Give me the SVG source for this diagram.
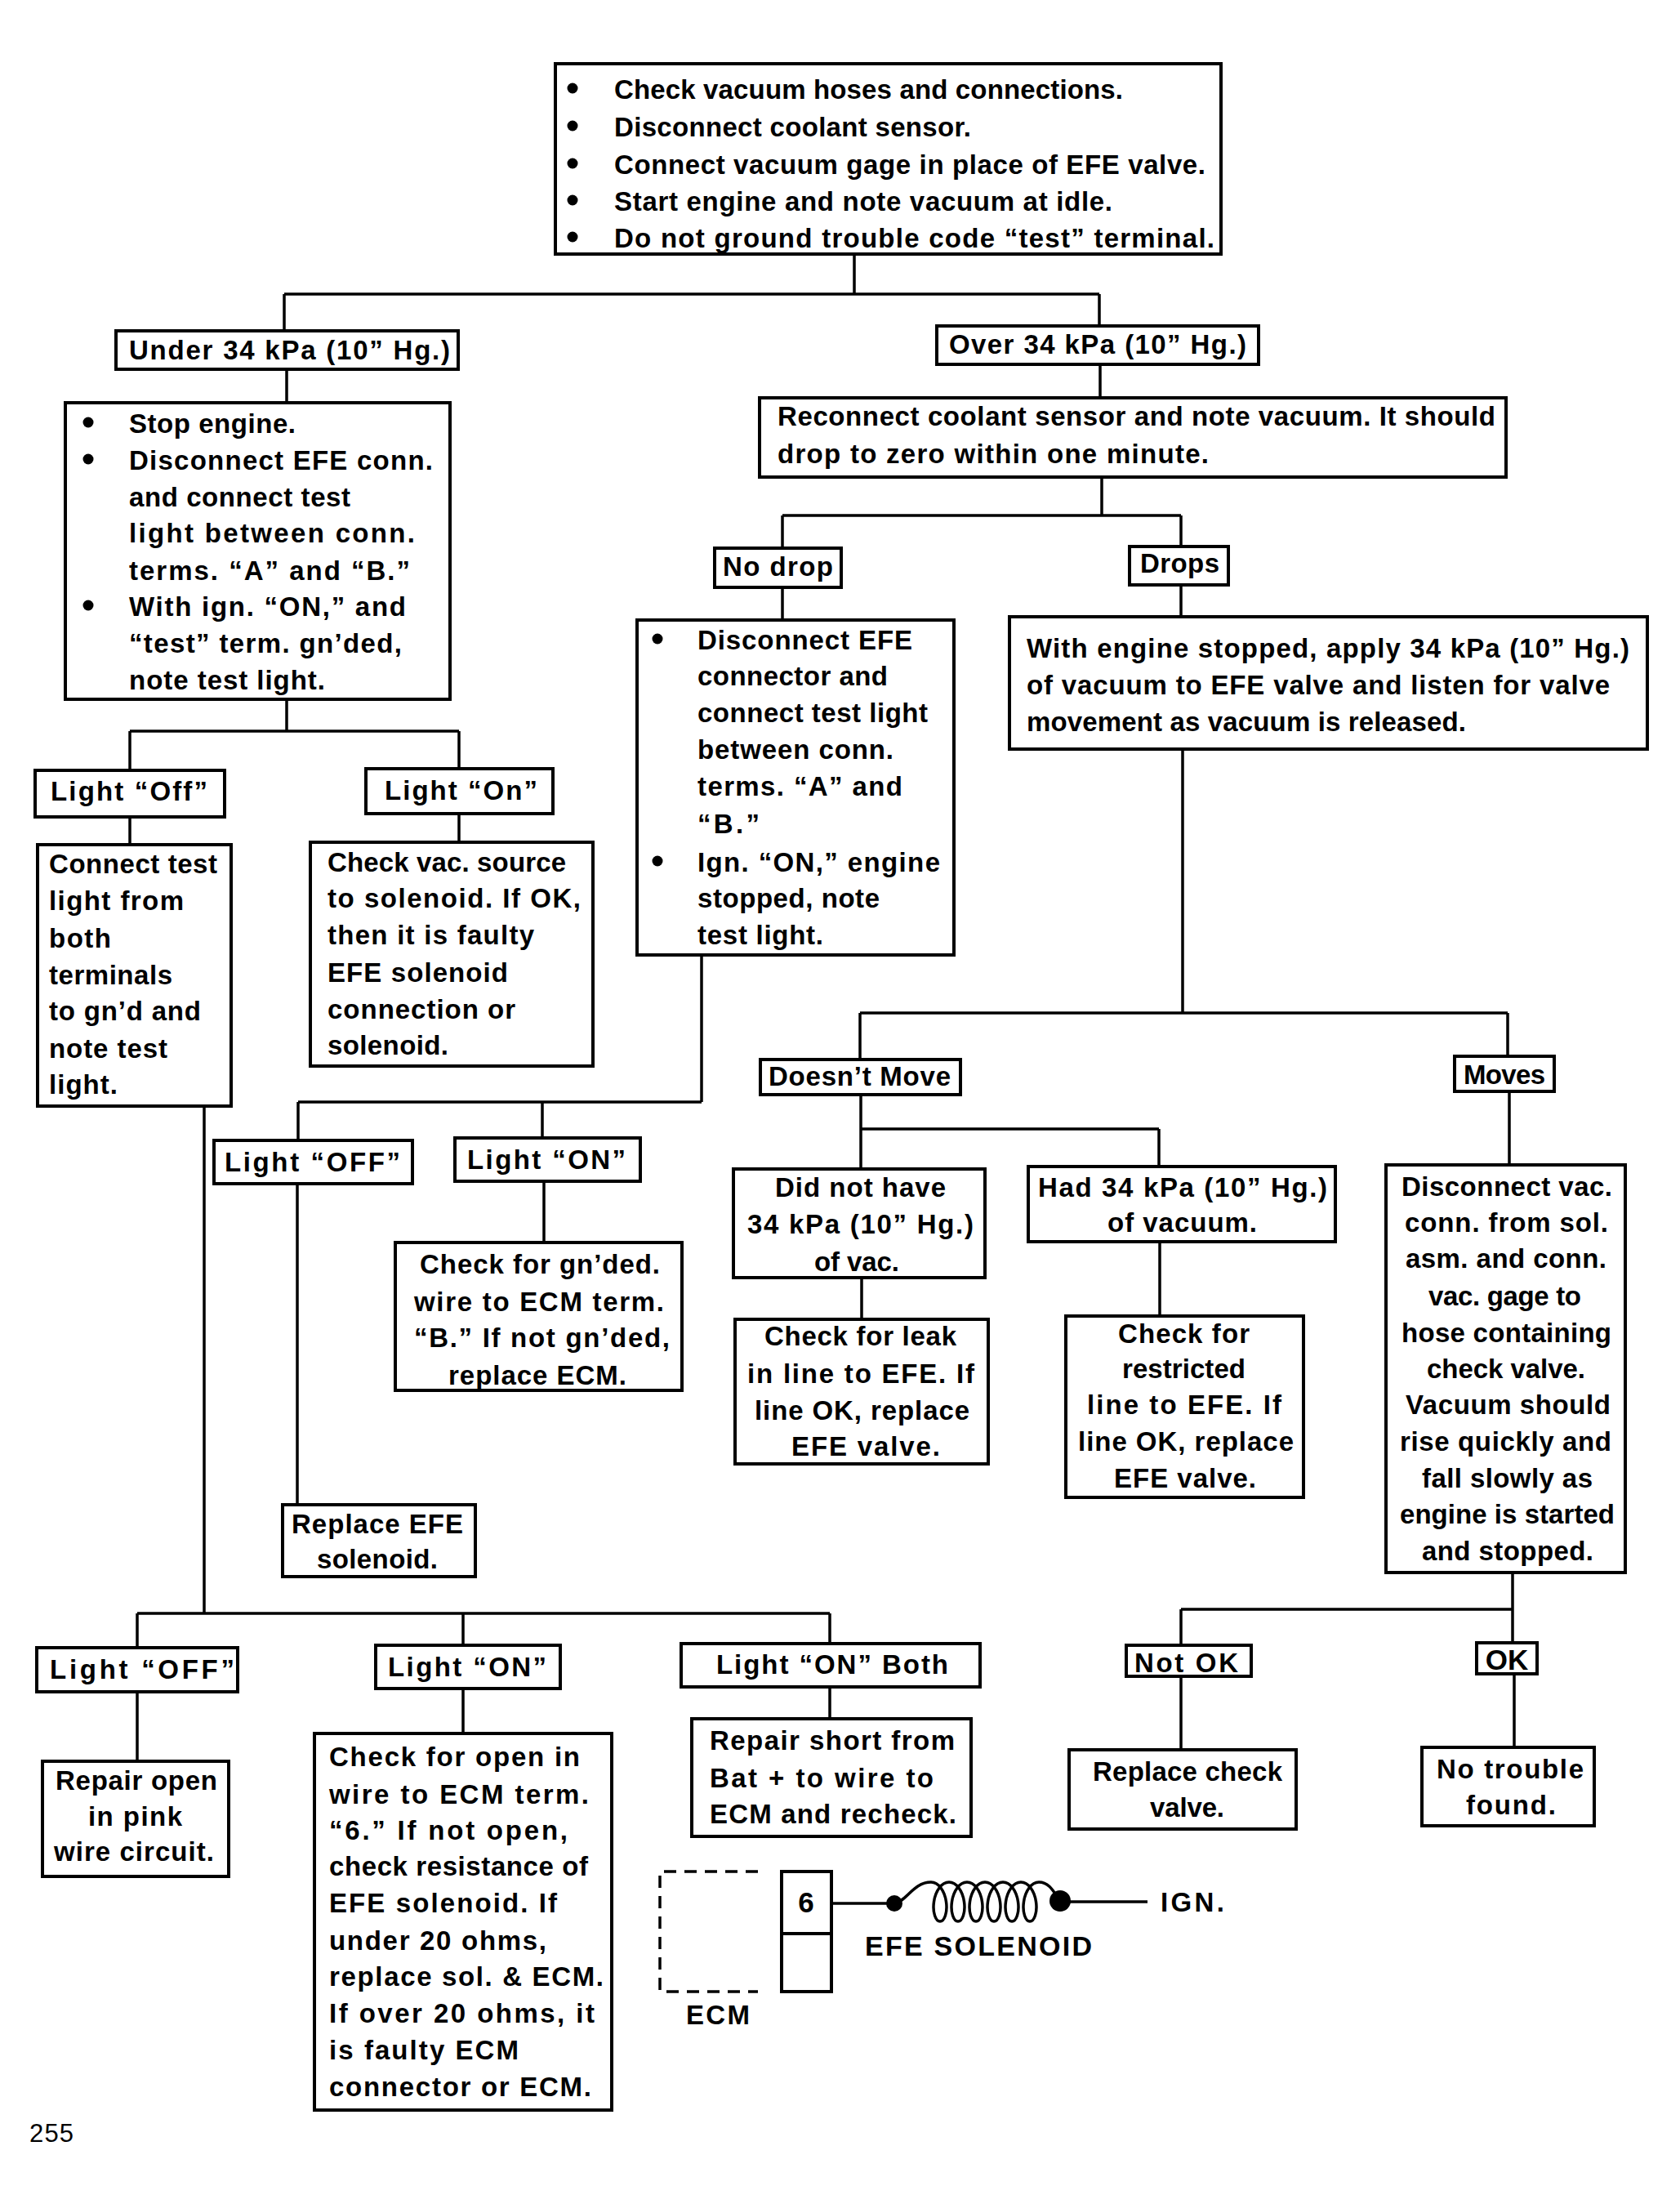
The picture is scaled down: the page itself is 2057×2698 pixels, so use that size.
<svg xmlns="http://www.w3.org/2000/svg" width="2057" height="2698" viewBox="0 0 2057 2698">
<style>
.b{fill:#fff;stroke:#000;stroke-width:4}
.t{font-family:"Liberation Sans",Arial,sans-serif;font-size:33px;font-weight:bold;fill:#000}
.c{fill:none;stroke:#000;stroke-width:3.5}
.d{fill:#000}
</style>
<rect width="2057" height="2698" fill="#fff"/>
<g id="connectors" class="c">
<path d="M1046,311V360M348,360H1346M348,360V405M1346,360V399"/>
<path d="M351,452V493M1347,446V487"/>
<path d="M1349,584V631M958,631H1446M958,631V671M1446,631V669"/>
<path d="M958,719V759M1446,716V755"/>
<path d="M351,856V895M159,895H562M159,895V943M562,895V941"/>
<path d="M159,1000V1034M562,996V1031"/>
<path d="M859,1169V1349M365,1349H859M365,1349V1396M664,1349V1393"/>
<path d="M364,1449V1842M666,1446V1521"/>
<path d="M250,1354V1975M168,1975H1016M168,1975V2017M567,1975V2014M1016,1975V2012"/>
<path d="M168,2071V2156M567,2067V2122M1016,2065V2104"/>
<path d="M1448,917V1240M1053,1240H1846M1053,1240V1297M1846,1240V1293"/>
<path d="M1054,1340V1431M1054,1382H1419M1419,1382V1428"/>
<path d="M1055,1564V1615M1420,1520V1611M1848,1336V1426"/>
<path d="M1852,1925V2011M1446,1970H1852M1446,1970V2014"/>
<path d="M1446,2052V2142M1854,2049V2139"/>
</g>
<g id="n-top">
<rect class="b" x="680" y="78" width="815" height="233"/>
<circle class="d" cx="701" cy="108" r="6.5"/><circle class="d" cx="701" cy="154" r="6.5"/><circle class="d" cx="701" cy="200" r="6.5"/><circle class="d" cx="701" cy="245" r="6.5"/><circle class="d" cx="701" cy="290" r="6.5"/>
<text class="t" lengthAdjust="spacing" x="752" y="121" textLength="623">Check vacuum hoses and connections.</text>
<text class="t" lengthAdjust="spacing" x="752" y="167" textLength="437">Disconnect coolant sensor.</text>
<text class="t" lengthAdjust="spacing" x="752" y="213" textLength="724">Connect vacuum gage in place of EFE valve.</text>
<text class="t" lengthAdjust="spacing" x="752" y="258" textLength="610">Start engine and note vacuum at idle.</text>
<text class="t" lengthAdjust="spacing" x="752" y="303" textLength="735">Do not ground trouble code “test” terminal.</text>
</g>
<g id="n-under">
<rect class="b" x="142" y="405" width="419" height="47"/>
<text class="t" lengthAdjust="spacing" x="158" y="440" textLength="393">Under 34 kPa (10” Hg.)</text>
</g>
<g id="n-over">
<rect class="b" x="1147" y="399" width="394" height="47"/>
<text class="t" lengthAdjust="spacing" x="1162" y="433" textLength="364">Over 34 kPa (10” Hg.)</text>
</g>
<g id="n-reconnect">
<rect class="b" x="930" y="487" width="914" height="97"/>
<text class="t" lengthAdjust="spacing" x="952" y="521" textLength="879">Reconnect coolant sensor and note vacuum. It should</text>
<text class="t" lengthAdjust="spacing" x="952" y="567" textLength="528">drop to zero within one minute.</text>
</g>
<g id="n-stop">
<rect class="b" x="80" y="493" width="471" height="363"/>
<circle class="d" cx="108" cy="517" r="6.5"/><circle class="d" cx="108" cy="562" r="6.5"/><circle class="d" cx="108" cy="741" r="6.5"/>
<text class="t" lengthAdjust="spacing" x="158" y="530" textLength="204">Stop engine.</text>
<text class="t" lengthAdjust="spacing" x="158" y="575" textLength="372">Disconnect EFE conn.</text>
<text class="t" lengthAdjust="spacing" x="158" y="620" textLength="271">and connect test</text>
<text class="t" lengthAdjust="spacing" x="158" y="664" textLength="350">light between conn.</text>
<text class="t" lengthAdjust="spacing" x="158" y="710" textLength="344">terms. “A” and “B.”</text>
<text class="t" lengthAdjust="spacing" x="158" y="754" textLength="339">With ign. “ON,” and</text>
<text class="t" lengthAdjust="spacing" x="158" y="799" textLength="334">“test” term. gn’ded,</text>
<text class="t" lengthAdjust="spacing" x="158" y="844" textLength="240">note test light.</text>
</g>
<g id="n-nodrop">
<rect class="b" x="875" y="671" width="155" height="48"/>
<text class="t" lengthAdjust="spacing" x="885" y="705" textLength="135">No drop</text>
</g>
<g id="n-drops">
<rect class="b" x="1383" y="669" width="121" height="47"/>
<text class="t" lengthAdjust="spacing" x="1396" y="701" textLength="97">Drops</text>
</g>
<g id="n-discefe">
<rect class="b" x="780" y="759" width="388" height="410"/>
<circle class="d" cx="805" cy="782" r="6.5"/><circle class="d" cx="805" cy="1054" r="6.5"/>
<text class="t" lengthAdjust="spacing" x="854" y="795" textLength="263">Disconnect EFE</text>
<text class="t" lengthAdjust="spacing" x="854" y="839" textLength="233">connector and</text>
<text class="t" lengthAdjust="spacing" x="854" y="884" textLength="282">connect test light</text>
<text class="t" lengthAdjust="spacing" x="854" y="929" textLength="240">between conn.</text>
<text class="t" lengthAdjust="spacing" x="854" y="974" textLength="251">terms. “A” and</text>
<text class="t" lengthAdjust="spacing" x="854" y="1020" textLength="76">“B.”</text>
<text class="t" lengthAdjust="spacing" x="854" y="1067" textLength="297">Ign. “ON,” engine</text>
<text class="t" lengthAdjust="spacing" x="854" y="1111" textLength="223">stopped, note</text>
<text class="t" lengthAdjust="spacing" x="854" y="1156" textLength="154">test light.</text>
</g>
<g id="n-withengine">
<rect class="b" x="1236" y="755" width="781" height="162"/>
<text class="t" lengthAdjust="spacing" x="1257" y="805" textLength="738">With engine stopped, apply 34 kPa (10” Hg.)</text>
<text class="t" lengthAdjust="spacing" x="1257" y="850" textLength="714">of vacuum to EFE valve and listen for valve</text>
<text class="t" lengthAdjust="spacing" x="1257" y="895" textLength="538">movement as vacuum is released.</text>
</g>
<g id="n-lightoff1">
<rect class="b" x="43" y="943" width="232" height="57"/>
<text class="t" lengthAdjust="spacing" x="62" y="980" textLength="192">Light “Off”</text>
</g>
<g id="n-lighton1">
<rect class="b" x="448" y="941" width="229" height="55"/>
<text class="t" lengthAdjust="spacing" x="471" y="979" textLength="187">Light “On”</text>
</g>
<g id="n-connecttest">
<rect class="b" x="46" y="1034" width="237" height="320"/>
<text class="t" lengthAdjust="spacing" x="60" y="1069" textLength="206">Connect test</text>
<text class="t" lengthAdjust="spacing" x="60" y="1114" textLength="165">light from</text>
<text class="t" lengthAdjust="spacing" x="60" y="1160" textLength="76">both</text>
<text class="t" lengthAdjust="spacing" x="60" y="1205" textLength="151">terminals</text>
<text class="t" lengthAdjust="spacing" x="60" y="1249" textLength="186">to gn’d and</text>
<text class="t" lengthAdjust="spacing" x="60" y="1295" textLength="145">note test</text>
<text class="t" lengthAdjust="spacing" x="60" y="1339" textLength="84">light.</text>
</g>
<g id="n-checkvac">
<rect class="b" x="380" y="1031" width="346" height="274"/>
<text class="t" lengthAdjust="spacing" x="401" y="1067" textLength="292">Check vac. source</text>
<text class="t" lengthAdjust="spacing" x="401" y="1111" textLength="310">to solenoid. If OK,</text>
<text class="t" lengthAdjust="spacing" x="401" y="1156" textLength="253">then it is faulty</text>
<text class="t" lengthAdjust="spacing" x="401" y="1202" textLength="221">EFE solenoid</text>
<text class="t" lengthAdjust="spacing" x="401" y="1247" textLength="230">connection or</text>
<text class="t" lengthAdjust="spacing" x="401" y="1291" textLength="148">solenoid.</text>
</g>
<g id="n-lightoff2">
<rect class="b" x="262" y="1396" width="243" height="53"/>
<text class="t" lengthAdjust="spacing" x="275" y="1434" textLength="215">Light “OFF”</text>
</g>
<g id="n-lighton2">
<rect class="b" x="557" y="1393" width="227" height="53"/>
<text class="t" lengthAdjust="spacing" x="572" y="1431" textLength="194">Light “ON”</text>
</g>
<g id="n-checkgn">
<rect class="b" x="484" y="1521" width="351" height="181"/>
<text class="t" lengthAdjust="spacing" x="514" y="1559" textLength="294">Check for gn’ded.</text>
<text class="t" lengthAdjust="spacing" x="507" y="1605" textLength="306">wire to ECM term.</text>
<text class="t" lengthAdjust="spacing" x="507" y="1649" textLength="313">“B.” If not gn’ded,</text>
<text class="t" lengthAdjust="spacing" x="549" y="1695" textLength="218">replace ECM.</text>
</g>
<g id="n-replaceefe">
<rect class="b" x="346" y="1842" width="236" height="88"/>
<text class="t" lengthAdjust="spacing" x="357" y="1877" textLength="210">Replace EFE</text>
<text class="t" lengthAdjust="spacing" x="388" y="1920" textLength="148">solenoid.</text>
</g>
<g id="n-doesnt">
<rect class="b" x="931" y="1297" width="245" height="43"/>
<text class="t" lengthAdjust="spacing" x="941" y="1329" textLength="223">Doesn’t Move</text>
</g>
<g id="n-moves">
<rect class="b" x="1781" y="1293" width="122" height="43"/>
<text class="t" lengthAdjust="spacing" x="1792" y="1327" textLength="100">Moves</text>
</g>
<g id="n-didnot">
<rect class="b" x="898" y="1431" width="308" height="133"/>
<text class="t" lengthAdjust="spacing" x="949" y="1465" textLength="209">Did not have</text>
<text class="t" lengthAdjust="spacing" x="915" y="1510" textLength="277">34 kPa (10” Hg.)</text>
<text class="t" lengthAdjust="spacing" x="997" y="1556" textLength="104">of vac.</text>
</g>
<g id="n-had">
<rect class="b" x="1259" y="1428" width="376" height="92"/>
<text class="t" lengthAdjust="spacing" x="1271" y="1465" textLength="354">Had 34 kPa (10” Hg.)</text>
<text class="t" lengthAdjust="spacing" x="1356" y="1508" textLength="183">of vacuum.</text>
</g>
<g id="n-checkleak">
<rect class="b" x="900" y="1615" width="310" height="177"/>
<text class="t" lengthAdjust="spacing" x="936" y="1647" textLength="235">Check for leak</text>
<text class="t" lengthAdjust="spacing" x="915" y="1693" textLength="278">in line to EFE. If</text>
<text class="t" lengthAdjust="spacing" x="924" y="1738" textLength="263">line OK, replace</text>
<text class="t" lengthAdjust="spacing" x="969" y="1782" textLength="182">EFE valve.</text>
</g>
<g id="n-checkrestricted">
<rect class="b" x="1305" y="1611" width="291" height="222"/>
<text class="t" lengthAdjust="spacing" x="1369" y="1644" textLength="161">Check for</text>
<text class="t" lengthAdjust="spacing" x="1374" y="1687" textLength="151">restricted</text>
<text class="t" lengthAdjust="spacing" x="1331" y="1731" textLength="238">line to EFE. If</text>
<text class="t" lengthAdjust="spacing" x="1320" y="1776" textLength="264">line OK, replace</text>
<text class="t" lengthAdjust="spacing" x="1364" y="1821" textLength="174">EFE valve.</text>
</g>
<g id="n-discvac">
<rect class="b" x="1697" y="1426" width="293" height="499"/>
<text class="t" lengthAdjust="spacing" x="1716" y="1464" textLength="258">Disconnect vac.</text>
<text class="t" lengthAdjust="spacing" x="1720" y="1508" textLength="249">conn. from sol.</text>
<text class="t" lengthAdjust="spacing" x="1721" y="1552" textLength="246">asm. and conn.</text>
<text class="t" lengthAdjust="spacing" x="1749" y="1598" textLength="187">vac. gage to</text>
<text class="t" lengthAdjust="spacing" x="1716" y="1643" textLength="257">hose containing</text>
<text class="t" lengthAdjust="spacing" x="1747" y="1687" textLength="194">check valve.</text>
<text class="t" lengthAdjust="spacing" x="1721" y="1731" textLength="251">Vacuum should</text>
<text class="t" lengthAdjust="spacing" x="1714" y="1776" textLength="259">rise quickly and</text>
<text class="t" lengthAdjust="spacing" x="1741" y="1821" textLength="209">fall slowly as</text>
<text class="t" lengthAdjust="spacing" x="1714" y="1865" textLength="263">engine is started</text>
<text class="t" lengthAdjust="spacing" x="1741" y="1910" textLength="210">and stopped.</text>
</g>
<g id="n-lightoff3">
<rect class="b" x="45" y="2017" width="246" height="54"/>
<text class="t" lengthAdjust="spacing" x="61" y="2055" textLength="226">Light “OFF”</text>
</g>
<g id="n-lighton3">
<rect class="b" x="460" y="2014" width="226" height="53"/>
<text class="t" lengthAdjust="spacing" x="475" y="2052" textLength="194">Light “ON”</text>
</g>
<g id="n-lightonboth">
<rect class="b" x="834" y="2012" width="366" height="53"/>
<text class="t" lengthAdjust="spacing" x="877" y="2049" textLength="284">Light “ON” Both</text>
</g>
<g id="n-repairopen">
<rect class="b" x="52" y="2156" width="228" height="141"/>
<text class="t" lengthAdjust="spacing" x="68" y="2191" textLength="198">Repair open</text>
<text class="t" lengthAdjust="spacing" x="108" y="2235" textLength="115">in pink</text>
<text class="t" lengthAdjust="spacing" x="66" y="2278" textLength="196">wire circuit.</text>
</g>
<g id="n-checkopen">
<rect class="b" x="385" y="2122" width="364" height="461"/>
<text class="t" lengthAdjust="spacing" x="403" y="2162" textLength="307">Check for open in</text>
<text class="t" lengthAdjust="spacing" x="403" y="2208" textLength="318">wire to ECM term.</text>
<text class="t" lengthAdjust="spacing" x="403" y="2252" textLength="292">“6.” If not open,</text>
<text class="t" lengthAdjust="spacing" x="403" y="2296" textLength="317">check resistance of</text>
<text class="t" lengthAdjust="spacing" x="403" y="2341" textLength="279">EFE solenoid. If</text>
<text class="t" lengthAdjust="spacing" x="403" y="2387" textLength="266">under 20 ohms,</text>
<text class="t" lengthAdjust="spacing" x="403" y="2431" textLength="336">replace sol. &amp; ECM.</text>
<text class="t" lengthAdjust="spacing" x="403" y="2476" textLength="325">If over 20 ohms, it</text>
<text class="t" lengthAdjust="spacing" x="403" y="2521" textLength="232">is faulty ECM</text>
<text class="t" lengthAdjust="spacing" x="403" y="2566" textLength="321">connector or ECM.</text>
</g>
<g id="n-repairshort">
<rect class="b" x="847" y="2104" width="342" height="144"/>
<text class="t" lengthAdjust="spacing" x="869" y="2142" textLength="300">Repair short from</text>
<text class="t" lengthAdjust="spacing" x="869" y="2188" textLength="274">Bat + to wire to</text>
<text class="t" lengthAdjust="spacing" x="869" y="2232" textLength="302">ECM and recheck.</text>
</g>
<g id="n-notok">
<rect class="b" x="1379" y="2014" width="153" height="38"/>
<text class="t" lengthAdjust="spacing" x="1389" y="2047" textLength="127">Not OK</text>
</g>
<g id="n-ok">
<rect class="b" x="1808" y="2011" width="74" height="38"/>
<text class="t" text-anchor="middle" x="1845" y="2044" style="font-size:35px">OK</text>
</g>
<g id="n-replacecheck">
<rect class="b" x="1309" y="2142" width="278" height="97"/>
<text class="t" lengthAdjust="spacing" x="1338" y="2180" textLength="232">Replace check</text>
<text class="t" lengthAdjust="spacing" x="1408" y="2224" textLength="91">valve.</text>
</g>
<g id="n-notrouble">
<rect class="b" x="1741" y="2139" width="211" height="96"/>
<text class="t" lengthAdjust="spacing" x="1759" y="2177" textLength="180">No trouble</text>
<text class="t" lengthAdjust="spacing" x="1795" y="2221" textLength="110">found.</text>
</g>
<g id="schematic">
<path d="M928,2291H808V2438H928" fill="none" stroke="#000" stroke-width="3.5" stroke-dasharray="15,10"/>
<text class="t" lengthAdjust="spacing" x="840" y="2478" textLength="78">ECM</text>
<rect x="957" y="2291" width="61" height="147" fill="#fff" stroke="#000" stroke-width="4"/>
<line x1="957" y1="2367" x2="1018" y2="2367" stroke="#000" stroke-width="4"/>
<text class="t" text-anchor="middle" x="987" y="2341" style="font-size:35px">6</text>
<line x1="1018" y1="2330" x2="1095" y2="2330" stroke="#000" stroke-width="3.5"/>
<circle class="d" cx="1095" cy="2330" r="10"/>
<path fill="none" stroke="#000" stroke-width="3.5" stroke-linejoin="round" d="M1095,2330C1110,2328 1118,2304 1140,2304
c9.11,0 16.57,10.75 18.5,24c1.93,13.25 -2.25,24 -7.5,24c-5.25,0 -9.43,-10.75 -7.5,-24c1.930,-13.25 9.39,-24 18.5,-24
c9.11,0 16.57,10.75 18.5,24c1.93,13.25 -2.25,24 -7.5,24c-5.25,0 -9.43,-10.75 -7.5,-24c1.93,-13.25 9.39,-24 18.5,-24
c9.11,0 16.57,10.75 18.5,24c1.93,13.25 -2.25,24 -7.5,24c-5.25,0 -9.43,-10.75 -7.5,-24c1.93,-13.25 9.39,-24 18.5,-24
c9.11,0 16.57,10.75 18.5,24c1.93,13.25 -2.25,24 -7.5,24c-5.25,0 -9.43,-10.75 -7.5,-24c1.93,-13.25 9.39,-24 18.5,-24
c9.11,0 16.57,10.75 18.5,24c1.93,13.25 -2.25,24 -7.5,24c-5.25,0 -9.43,-10.75 -7.5,-24c1.93,-13.25 9.39,-24 18.5,-24
c9.11,0 16.57,10.75 18.5,24c1.93,13.25 -2.25,24 -7.5,24c-5.25,0 -9.43,-10.75 -7.5,-24c1.93,-13.25 9.39,-24 18.5,-24
C1286,2304 1291,2318 1298,2327"/>
<circle class="d" cx="1298" cy="2327" r="13"/>
<line x1="1298" y1="2328" x2="1405" y2="2328" stroke="#000" stroke-width="3.5"/>
<text class="t" lengthAdjust="spacing" x="1421" y="2340" textLength="78">IGN.</text>
<text class="t" lengthAdjust="spacing" x="1059" y="2394" textLength="278" style="font-size:34px">EFE SOLENOID</text>
</g>
<text x="36" y="2622" textLength="54" lengthAdjust="spacing" style="font-family:'Liberation Sans',Arial,sans-serif;font-size:31px;fill:#000">255</text>
</svg>
